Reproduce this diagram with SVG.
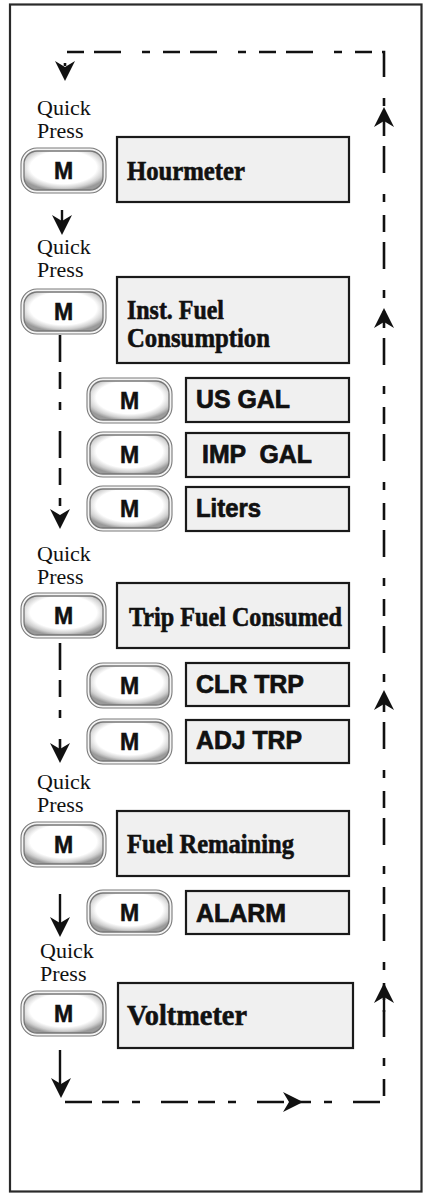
<svg xmlns="http://www.w3.org/2000/svg" width="428" height="1193" viewBox="0 0 428 1193">
<style>
.frame{fill:#fff;stroke:#2a2a2a;stroke-width:2.2}
.box{fill:#f0f0f0;stroke:#1a1a1a;stroke-width:2.2}
.bo{fill:#f4f4f4;stroke:#7a7a7a;stroke-width:1.1}
.bi{fill:url(#bg);stroke:#777;stroke-width:1.3}
.m{font-family:"Liberation Sans",Arial,sans-serif;font-weight:bold;font-size:23px;fill:#111;stroke:#111;stroke-width:0.5;text-anchor:middle}
.qp{font-family:"Liberation Serif","Times New Roman",serif;font-size:22px;fill:#111}
.ser{font-family:"Liberation Serif","Times New Roman",serif;font-weight:bold;font-size:27px;fill:#111;stroke:#111;stroke-width:0.6}
.san{font-family:"Liberation Sans",Arial,sans-serif;font-weight:bold;font-size:25px;fill:#111;stroke:#111;stroke-width:0.7}
.dash{fill:none;stroke:#111;stroke-width:2.6;stroke-dasharray:27 10 17 13 8 21}
.solid{fill:none;stroke:#111;stroke-width:2.4}
.ah{fill:#111}
</style>
<defs>
<radialGradient id="bg" cx="50%" cy="42%" r="60%">
<stop offset="0" stop-color="#fff"/>
<stop offset="0.7" stop-color="#fff"/>
<stop offset="0.88" stop-color="#d0d0d0"/>
<stop offset="1" stop-color="#9a9a9a"/>
</radialGradient>
<path id="ah" d="M0,0 L-10,-20 L0,-14 L10,-20 Z"/>
<g id="btn">
<rect class="bo" x="0" y="0" width="85" height="45" rx="16"/>
<rect class="bi" x="3" y="3" width="79" height="39" rx="13"/>
</g>
</defs>
<rect class="frame" x="10" y="4.5" width="411.5" height="1187"/>

<g id="connectors">
<path class="dash" d="M65,1102 H384 V52 H65 V66"/>
<use href="#ah" class="ah" transform="translate(65,81)"/>
<use href="#ah" class="ah" transform="translate(384,107) rotate(180)"/>
<use href="#ah" class="ah" transform="translate(384,308) rotate(180)"/>
<use href="#ah" class="ah" transform="translate(384,690) rotate(180)"/>
<use href="#ah" class="ah" transform="translate(384,983) rotate(180)"/>
<path class="solid" d="M384,990 V1012"/>
<use href="#ah" class="ah" transform="translate(303,1102) rotate(-90)"/>
<path class="solid" d="M62,210 V222"/>
<use href="#ah" class="ah" transform="translate(62,235)"/>
<path class="dash" d="M60,335 V516"/>
<use href="#ah" class="ah" transform="translate(60,529)"/>
<path class="dash" d="M60,643 V750"/>
<use href="#ah" class="ah" transform="translate(60,763)"/>
<path class="solid" d="M60,894 V925"/>
<use href="#ah" class="ah" transform="translate(60,937)"/>
<path class="solid" d="M60,1050 V1086"/>
<use href="#ah" class="ah" transform="translate(61,1098)"/>
</g>

<g id="hourmeter">
<text class="qp" x="37" y="115">Quick</text>
<text class="qp" x="37" y="138">Press</text>
<use href="#btn" x="21" y="148"/>
<text class="m" x="63.5" y="178.5">M</text>
<rect class="box" x="117" y="137" width="232" height="65"/>
<text class="ser" x="127" y="180" textLength="118" lengthAdjust="spacingAndGlyphs">Hourmeter</text>
</g>

<g id="inst-fuel">
<text class="qp" x="37" y="254">Quick</text>
<text class="qp" x="37" y="277">Press</text>
<use href="#btn" x="21" y="289"/>
<text class="m" x="63.5" y="319.5">M</text>
<rect class="box" x="117" y="277" width="232" height="86"/>
<text class="ser" x="127" y="319" textLength="97" lengthAdjust="spacingAndGlyphs">Inst. Fuel</text>
<text class="ser" x="127" y="347" textLength="143" lengthAdjust="spacingAndGlyphs">Consumption</text>
</g>

<g id="us-gal">
<use href="#btn" x="87" y="378"/>
<text class="m" x="129.5" y="408.5">M</text>
<rect class="box" x="186" y="378" width="163" height="44"/>
<text class="san" x="196" y="408" textLength="94" lengthAdjust="spacingAndGlyphs">US GAL</text>
</g>
<g id="imp-gal">
<use href="#btn" x="87" y="432"/>
<text class="m" x="129.5" y="462.5">M</text>
<rect class="box" x="186" y="433" width="163" height="44"/>
<text class="san" x="202" y="463" xml:space="preserve" textLength="110" lengthAdjust="spacingAndGlyphs">IMP  GAL</text>
</g>
<g id="liters">
<use href="#btn" x="87" y="486"/>
<text class="m" x="129.5" y="516.5">M</text>
<rect class="box" x="186" y="487" width="163" height="44"/>
<text class="san" x="196" y="517" textLength="65" lengthAdjust="spacingAndGlyphs">Liters</text>
</g>

<g id="trip-fuel">
<text class="qp" x="37" y="561">Quick</text>
<text class="qp" x="37" y="584">Press</text>
<use href="#btn" x="21" y="593"/>
<text class="m" x="63.5" y="623.5">M</text>
<rect class="box" x="117" y="583" width="232" height="65"/>
<text class="ser" x="129" y="626" textLength="213" lengthAdjust="spacingAndGlyphs">Trip Fuel Consumed</text>
</g>
<g id="clr-trp">
<use href="#btn" x="87" y="663"/>
<text class="m" x="129.5" y="693.5">M</text>
<rect class="box" x="186" y="663" width="163" height="43"/>
<text class="san" x="196" y="693" textLength="108" lengthAdjust="spacingAndGlyphs">CLR TRP</text>
</g>
<g id="adj-trp">
<use href="#btn" x="87" y="719"/>
<text class="m" x="129.5" y="749.5">M</text>
<rect class="box" x="186" y="720" width="163" height="43"/>
<text class="san" x="196" y="749" textLength="106" lengthAdjust="spacingAndGlyphs">ADJ TRP</text>
</g>

<g id="fuel-remaining">
<text class="qp" x="37" y="789">Quick</text>
<text class="qp" x="37" y="812">Press</text>
<use href="#btn" x="21" y="822"/>
<text class="m" x="63.5" y="852.5">M</text>
<rect class="box" x="117" y="811" width="232" height="65"/>
<text class="ser" x="127" y="853" textLength="167" lengthAdjust="spacingAndGlyphs">Fuel Remaining</text>
</g>
<g id="alarm">
<use href="#btn" x="87" y="890"/>
<text class="m" x="129.5" y="920.5">M</text>
<rect class="box" x="186" y="891" width="163" height="43"/>
<text class="san" x="196" y="922" textLength="90" lengthAdjust="spacingAndGlyphs">ALARM</text>
</g>

<g id="voltmeter">
<text class="qp" x="40" y="958">Quick</text>
<text class="qp" x="40" y="981">Press</text>
<use href="#btn" x="21" y="991"/>
<text class="m" x="63.5" y="1021.5">M</text>
<rect class="box" x="118" y="983" width="235" height="65"/>
<text class="ser" x="127" y="1025" style="font-size:30px" textLength="120" lengthAdjust="spacingAndGlyphs">Voltmeter</text>
</g>
</svg>
